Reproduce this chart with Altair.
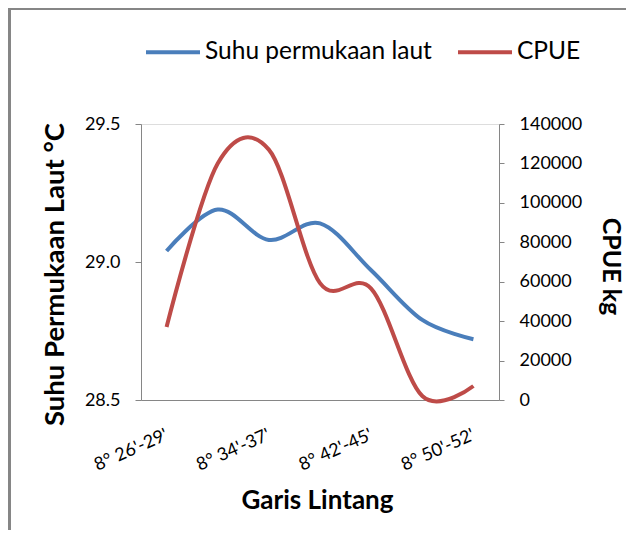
import json
import altair as alt
import pandas as pd

# ---- data ----
idx = [0, 1, 2, 3, 4, 5, 6]
sst = [29.04, 29.19, 29.08, 29.14, 28.97, 28.79, 28.72]
cpue = [37000, 120000, 127000, 59300, 56500, 2000, 7100]
tick_pos = [0, 2, 4, 6]
tick_labels = ["8° 26'-29'", "8° 34'-37'", "8° 42'-45'", "8° 50'-52'"]
series = ["Suhu permukaan laut", "CPUE"]
colors = ["#4A7EBB", "#BE4B48"]
sst_ticks = [28.5, 29.0, 29.5]
cpue_ticks = [0, 20000, 40000, 60000, 80000, 100000, 120000, 140000]

FONT = "Lato"
GREY = "#868686"

rows = []
for i, v in zip(idx, sst):
    rows.append({"idx": i, "series": series[0], "value": v})
for i, v in zip(idx, cpue):
    rows.append({"idx": i, "series": series[1], "value": v})
df = pd.DataFrame(rows)

lab_arr = [""] * len(idx)
for p, l in zip(tick_pos, tick_labels):
    lab_arr[p] = l
label_expr = json.dumps(lab_arr, ensure_ascii=False) + "[datum.value]"

x_enc = alt.X(
    "idx:Q",
    scale=alt.Scale(domain=[-0.5, 6.5], nice=False, zero=False),
    axis=alt.Axis(
        values=tick_pos, labelExpr=label_expr, grid=False, ticks=False,
        domainColor=GREY, domainWidth=1, labelAngle=-24, labelAlign="right",
        labelBaseline="middle", labelPadding=34, labelFont=FONT, labelFontSize=18,
        labelColor="black", labelLimit=300,
        title="Garis Lintang", titleFont=FONT, titleFontSize=26, titleFontWeight="bold",
        titleColor="black", titleX=176, titleY=108, titleAlign="center",
        titleBaseline="alphabetic", titleAnchor="start",
    ),
)

color_enc = alt.Color(
    "series:N",
    scale=alt.Scale(domain=series, range=colors),
    legend=alt.Legend(
        title=None, orient="none", legendX=3, legendY=-101, direction="horizontal",
        symbolType="stroke", symbolSize=2916, symbolStrokeWidth=4,
        labelFont=FONT, labelFontSize=24.5, labelColor="black", labelOffset=3,
        columnPadding=18, labelLimit=400,
    ),
)

blue = alt.Chart(df).transform_filter(alt.datum.series == series[0]).mark_line(
    interpolate="cardinal", strokeWidth=4
).encode(
    x=x_enc,
    y=alt.Y(
        "value:Q",
        scale=alt.Scale(domain=[28.5, 29.5], nice=False, zero=False),
        axis=alt.Axis(
            orient="left", values=sst_ticks, format=".1f", grid=False,
            domainColor=GREY, tickColor=GREY, tickSize=6, labelPadding=15,
            labelFont=FONT, labelFontSize=18, labelColor="black",
            title="Suhu Permukaan Laut °C", titleFont=FONT, titleFontSize=27.5,
            titleFontWeight="bold", titleColor="black", titleAngle=-90,
            titleX=-78, titleY=150, titleAlign="center", titleBaseline="alphabetic",
        ),
    ),
    color=color_enc,
)

red = alt.Chart(df).transform_filter(alt.datum.series == series[1]).mark_line(
    interpolate="cardinal", strokeWidth=4
).encode(
    x=x_enc,
    y=alt.Y(
        "value:Q",
        scale=alt.Scale(domain=[0, 140000], nice=False),
        axis=alt.Axis(
            orient="right", values=cpue_ticks, format="d", grid=False,
            domainColor=GREY, tickColor=GREY, tickSize=5, labelPadding=15,
            labelFont=FONT, labelFontSize=18, labelColor="black",
            title="CPUE kg", titleFont=FONT, titleFontSize=25,
            titleFontWeight="bold", titleColor="black", titleAngle=90,
            titleX=103, titleY=142, titleAlign="center", titleBaseline="alphabetic",
        ),
    ),
    color=color_enc,
)

frame_src = alt.Data(values=[{"a": 1}])
frame_left = alt.Chart(frame_src).mark_rule(stroke=GREY, strokeWidth=3).encode(
    x=alt.value(-131.5), y=alt.value(-116.5), y2=alt.value(800)
)
frame_top = alt.Chart(frame_src).mark_rule(stroke=GREY, strokeWidth=2.5).encode(
    y=alt.value(-115.2), x=alt.value(-133), x2=alt.value(800)
)

chart = alt.layer(frame_left, frame_top, blue, red).resolve_scale(y="independent").properties(
    width=358, height=276,
    autosize=alt.AutoSizeParams(type="none"),
    padding={"left": 133, "top": 116, "right": 127, "bottom": 130},
).configure_view(stroke="transparent").configure(background="white")

chart.save("out.html", embed_options={"renderer": "svg", "actions": False})
